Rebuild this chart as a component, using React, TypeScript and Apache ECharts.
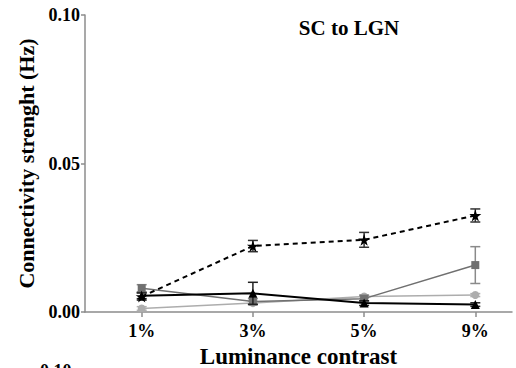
import React, { useEffect, useRef } from "react";
import * as echarts from "echarts";

const categories = ["1%", "3%", "5%", "9%"];
const yTicks = [0, 0.05, 0.1];

// Mean connectivity strength (Hz) and SEM per condition
const starMean = [0.0052, 0.0222, 0.0243, 0.0325];
const starErr = [0.0012, 0.0019, 0.0025, 0.0022];
const squareMean = [0.008, 0.0035, 0.0045, 0.0158];
const squareErr = [0.0012, 0.001, 0.001, 0.0062];
const circleMean = [0.0012, 0.003, 0.0052, 0.0057];
const circleErr = [0.0006, 0.0006, 0.0006, 0.0005];
const triangleMean = [0.0055, 0.0063, 0.003, 0.0025];
const triangleErr = [0.001, 0.0037, 0.0008, 0.0006];

const STAR =
  "path://M50,0 L61,35 L98,35 L68,57 L79,91 L50,70 L21,91 L32,57 L2,35 L39,35 Z";
const FONT = "'Liberation Serif', 'Times New Roman', serif";
const AXIS = "#8c8c8c";

const pts = (vals: number[]) => vals.map((v, i) => [i, v]);
const errPts = (vals: number[], errs: number[]) => vals.map((v, i) => [i, v, errs[i]]);

function errorSeries(vals: number[], errs: number[], color: string, z: number) {
  return {
    type: "custom",
    z,
    silent: true,
    encode: { x: 0, y: 1 },
    data: errPts(vals, errs),
    renderItem: (_p: any, api: any) => {
      const x = api.value(0);
      const y = api.value(1);
      const e = api.value(2);
      const top = api.coord([x, y + e]);
      const bot = api.coord([x, y - e]);
      const w = 5;
      const style = { stroke: color, lineWidth: 1.5 };
      return {
        type: "group",
        children: [
          { type: "line", shape: { x1: top[0], y1: top[1], x2: bot[0], y2: bot[1] }, style },
          { type: "line", shape: { x1: top[0] - w, y1: top[1], x2: top[0] + w, y2: top[1] }, style },
          { type: "line", shape: { x1: bot[0] - w, y1: bot[1], x2: bot[0] + w, y2: bot[1] }, style },
        ],
      };
    },
  };
}

function lineSeries(
  vals: number[],
  color: string,
  symbol: string,
  size: number,
  width: number,
  dashed: boolean,
  z: number
) {
  return {
    type: "line",
    z,
    data: pts(vals),
    symbol,
    symbolSize: size,
    showAllSymbol: true,
    lineStyle: { color, width, type: dashed ? [5, 4] : "solid" },
    itemStyle: { color, borderWidth: 0 },
  };
}

export default function App() {
  const ref = useRef<HTMLDivElement>(null);

  useEffect(() => {
    if (!ref.current) return;
    const chart = echarts.init(ref.current, null, { renderer: "svg" });
    chart.setOption({
      animation: false,
      backgroundColor: "#ffffff",
      title: {
        text: "SC to LGN",
        left: 344,
        top: 12,
        textAlign: "center",
        textStyle: { fontFamily: FONT, fontWeight: "bold", fontSize: 21, color: "#000" },
      },
      grid: { left: 85, right: 4, top: 15, bottom: 56, outerBoundsMode: "none", containLabel: false },
      xAxis: {
        type: "value",
        min: -0.51,
        max: 3.33,
        name: "Luminance contrast",
        nameLocation: "middle",
        nameGap: 32,
        nameTextStyle: { fontFamily: FONT, fontWeight: "bold", fontSize: 23, color: "#000" },
        splitLine: { show: false },
        axisLine: { show: true, onZero: false, lineStyle: { color: AXIS, width: 1.5 } },
        axisTick: { show: true, length: 5, lineStyle: { color: AXIS, width: 1.5 }, customValues: [0, 1, 2, 3] },
        axisLabel: {
          customValues: [0, 1, 2, 3],
          formatter: (v: number) => categories[Math.round(v)] ?? "",
          fontFamily: FONT,
          fontWeight: "bold",
          fontSize: 18,
          color: "#000",
          margin: 10,
        },
      },
      yAxis: {
        type: "value",
        min: 0,
        max: 0.1,
        interval: 0.05,
        name: "Connectivity strenght (Hz)",
        nameLocation: "middle",
        nameGap: 48,
        nameTextStyle: { fontFamily: FONT, fontWeight: "bold", fontSize: 22, color: "#000" },
        splitLine: { show: false },
        axisLine: { show: true, onZero: false, lineStyle: { color: AXIS, width: 1.5 } },
        axisTick: { show: true, length: 4, lineStyle: { color: AXIS, width: 1.5 } },
        axisLabel: {
          customValues: yTicks,
          formatter: (v: number) => v.toFixed(2),
          fontFamily: FONT,
          fontWeight: "bold",
          fontSize: 18,
          color: "#000",
          margin: 5,
        },
      },
      graphic: [
        {
          type: "text",
          left: 40,
          top: 362,
          style: { text: "0.10", fontFamily: FONT, fontWeight: "bold", fontSize: 18, fill: "#000" },
        },
      ],
      series: [
        errorSeries(circleMean, circleErr, "#b0b0b0", 2),
        lineSeries(circleMean, "#adadad", "circle", 8, 1.5, false, 3),
        errorSeries(squareMean, squareErr, "#8a8a8a", 4),
        lineSeries(squareMean, "#707070", "rect", 8, 1.5, false, 5),
        errorSeries(triangleMean, triangleErr, "#222", 6),
        lineSeries(triangleMean, "#000", "triangle", 9, 2, false, 7),
        errorSeries(starMean, starErr, "#333", 8),
        lineSeries(starMean, "#000", STAR, 12, 2, true, 9),
      ],
    });
    return () => chart.dispose();
  }, []);

  return (
    <div
      ref={ref}
      style={{ position: "fixed", left: 0, top: 0, width: 516, height: 368, background: "#fff" }}
    />
  );
}
